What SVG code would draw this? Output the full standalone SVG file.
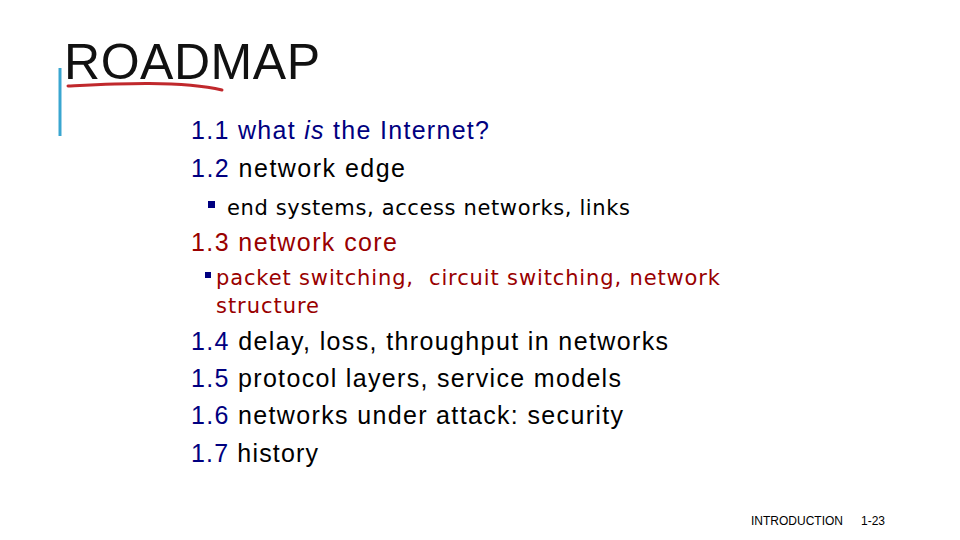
<svg xmlns="http://www.w3.org/2000/svg" width="960" height="540" viewBox="0 0 960 540">
<style>
.m{font-family:"Liberation Sans",Arial,sans-serif;font-size:25px;fill:#000}
.n{fill:#000080}
.s{font-family:"DejaVu Sans","Verdana",sans-serif;font-size:21px;fill:#000}
.r{fill:#990000}
</style>
<rect width="960" height="540" fill="#fff"/>
<g id="title">
<line x1="60" y1="68" x2="60" y2="136" stroke="#3aa6d0" stroke-width="3"/>
<text x="64" y="79" font-family="Liberation Sans,Arial,sans-serif" font-size="50" textLength="256" fill="#111">ROADMAP</text>
<path d="M68,86 C110,84 180,80 222,90" fill="none" stroke="#c0282c" stroke-width="3" stroke-linecap="round"/>
</g>
<g id="list">
<text class="m n" x="191" y="139" textLength="298">1.1 what <tspan font-style="italic">is</tspan> the Internet?</text>
<text class="m" x="191" y="177" textLength="214"><tspan class="n">1.2</tspan> network edge</text>
<rect x="208" y="201" width="7" height="7" fill="#000080"/>
<text class="s" x="227" y="215" textLength="403">end systems, access networks, links</text>
<text class="m r" x="191" y="251" textLength="206">1.3 network core</text>
<rect x="205" y="272" width="6" height="6" fill="#000080"/>
<text class="s r" x="216" y="285" textLength="504" xml:space="preserve">packet switching,  circuit switching, network</text>
<text class="s r" x="216" y="313" textLength="103">structure</text>
<text class="m" x="191" y="350" textLength="477"><tspan class="n">1.4</tspan> delay, loss, throughput in networks</text>
<text class="m" x="191" y="387" textLength="430"><tspan class="n">1.5</tspan> protocol layers, service models</text>
<text class="m" x="191" y="424" textLength="432"><tspan class="n">1.6</tspan> networks under attack: security</text>
<text class="m" x="191" y="462" textLength="127"><tspan class="n">1.7</tspan> history</text>
</g>
<g id="footer" font-family="Liberation Sans,Arial,sans-serif" font-size="12" fill="#000">
<text x="751" y="525">INTRODUCTION</text>
<text x="861" y="525">1-23</text>
</g>
</svg>
